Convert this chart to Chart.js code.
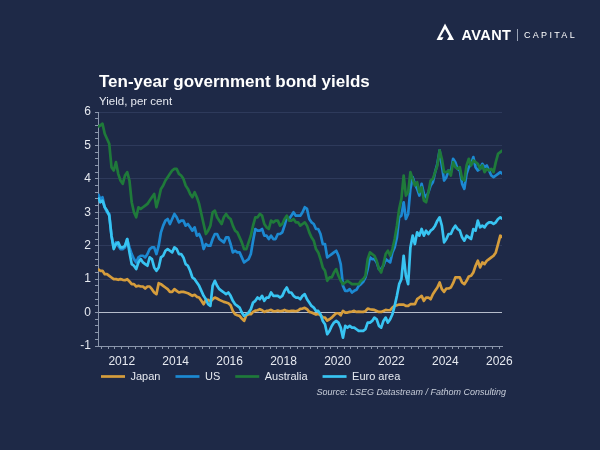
<!DOCTYPE html>
<html>
<head>
<meta charset="utf-8">
<script src="https://cdn.jsdelivr.net/npm/chart.js@4.4.1/dist/chart.umd.min.js"></script>
<style>
html,body{margin:0;padding:0;background:#1e2947;}
#wrap{position:relative;width:600px;height:450px;overflow:hidden;background:#1e2947;font-family:"Liberation Sans",Arial,sans-serif;}
#c{position:absolute;left:0;top:0;width:600px;height:450px;}
.title{position:absolute;left:99px;top:71.5px;color:#ffffff;font-weight:bold;font-size:17px;white-space:nowrap;line-height:normal;}
.sub{position:absolute;left:99px;top:94.5px;color:#e6e9f0;font-size:11.5px;white-space:nowrap;line-height:normal;}
.source{position:absolute;right:94px;top:386.8px;color:#c7cdd9;font-style:italic;font-size:9px;white-space:nowrap;line-height:normal;}
.brand{position:absolute;left:461.5px;top:26.5px;color:#ffffff;font-weight:bold;font-size:14.5px;letter-spacing:0.4px;line-height:normal;white-space:nowrap;}
.cap{position:absolute;left:524px;top:30px;color:#ffffff;font-size:9px;letter-spacing:2.3px;line-height:normal;white-space:nowrap;}
.div{position:absolute;left:517px;top:29px;width:1px;height:12px;background:#9aa3b5;}
svg.icon{position:absolute;left:436px;top:23px;}
</style>
</head>
<body>
<div id="wrap">
  <canvas id="c" width="600" height="450"></canvas>
  <svg class="icon" width="19" height="18" viewBox="0 0 19 18">
    <path d="M9 0.5 L18 17 L11 17 L13.2 13.2 L9 6 L4.2 14.2 L7.5 14.2 L6 17 L0.5 17 Z" fill="#ffffff"/>
  </svg>
  <div class="brand">AVANT</div>
  <div class="div"></div>
  <div class="cap">CAPITAL</div>
  <div class="title">Ten-year government bond yields</div>
  <div class="sub">Yield, per cent</div>
  <div class="source">Source: LSEG Datastream / Fathom Consulting</div>
</div>
<script>
// Monthly observations, Feb 2011 .. Feb 2026
const firstMonth = 2011.12;   // decimal year of first observation
const seriesNames = ['Japan', 'US', 'Australia', 'Euro area'];
const xTickYears = [2012, 2014, 2016, 2018, 2020, 2022, 2024, 2026];
const yTickValues = [-1, 0, 1, 2, 3, 4, 5, 6];

const japan = [
  1.30,1.25,1.25,1.15,1.15,1.10,1.05,1.00,1.00,0.98,1.00,
  0.98,0.97,1.00,0.93,0.85,0.85,0.78,0.80,0.78,0.78,0.72,0.78,
  0.78,0.70,0.60,0.55,0.88,0.85,0.80,0.75,0.70,0.62,0.62,0.70,
  0.65,0.60,0.62,0.62,0.60,0.58,0.54,0.50,0.53,0.47,0.45,0.35,
  0.25,0.38,0.38,0.33,0.40,0.45,0.42,0.38,0.35,0.32,0.30,0.28,
  0.22,0.05,-0.05,-0.08,-0.10,-0.18,-0.25,-0.08,-0.05,-0.05,0.02,0.06,
  0.07,0.10,0.07,0.02,0.05,0.06,0.08,0.04,0.04,0.06,0.04,0.05,
  0.08,0.05,0.04,0.05,0.05,0.04,0.06,0.11,0.12,0.14,0.10,0.02,
  0.00,-0.03,-0.06,-0.04,-0.08,-0.14,-0.15,-0.24,-0.20,-0.15,-0.08,-0.02,
  -0.02,-0.08,0.05,0.00,0.00,0.02,0.03,0.05,0.02,0.03,0.02,0.02,
  0.04,0.12,0.10,0.09,0.08,0.05,0.02,0.02,0.05,0.08,0.07,0.07,
  0.15,0.20,0.22,0.24,0.24,0.24,0.20,0.20,0.25,0.25,0.25,0.40,
  0.45,0.50,0.35,0.45,0.45,0.40,0.55,0.65,0.75,0.90,0.70,0.62,
  0.72,0.72,0.75,0.88,1.05,1.05,1.05,0.90,0.85,0.95,1.08,1.10,
  1.20,1.40,1.55,1.35,1.50,1.45,1.55,1.60,1.65,1.70,1.80,2.05,
  2.30,2.25
];
const us = [
  3.55,3.40,3.45,3.15,3.00,2.95,2.30,1.95,2.10,2.00,1.90,
  1.90,1.95,2.20,1.95,1.75,1.60,1.50,1.65,1.70,1.70,1.65,1.75,
  1.90,1.95,1.95,1.75,2.00,2.40,2.60,2.75,2.80,2.65,2.80,2.95,
  2.85,2.70,2.75,2.75,2.60,2.65,2.55,2.45,2.55,2.30,2.35,2.20,
  1.90,2.05,2.00,2.00,2.20,2.35,2.35,2.20,2.15,2.10,2.25,2.25,
  2.05,1.80,1.85,1.80,1.80,1.65,1.50,1.55,1.60,1.75,2.15,2.50,
  2.45,2.45,2.50,2.30,2.30,2.20,2.30,2.20,2.20,2.35,2.35,2.40,
  2.60,2.85,2.80,2.90,3.00,2.90,2.90,2.90,3.00,3.15,3.10,2.80,
  2.70,2.65,2.50,2.50,2.35,2.05,2.05,1.65,1.70,1.75,1.80,1.85,
  1.70,1.45,0.80,0.65,0.65,0.70,0.60,0.65,0.68,0.80,0.85,0.92,
  1.05,1.30,1.65,1.60,1.60,1.50,1.30,1.30,1.40,1.60,1.55,1.50,
  1.80,1.95,2.25,2.85,2.90,3.30,2.80,2.95,3.70,4.05,3.85,3.70,
  3.50,3.85,3.55,3.45,3.60,3.80,3.90,4.20,4.45,4.85,4.40,3.95,
  4.05,4.25,4.20,4.60,4.50,4.30,4.25,3.85,3.70,4.15,4.35,4.45,
  4.65,4.35,4.25,4.30,4.45,4.35,4.40,4.25,4.10,4.05,4.10,4.15,
  4.20,4.15
];
const australia = [
  5.55,5.60,5.65,5.35,5.20,5.05,4.35,4.25,4.50,4.15,3.95,
  3.85,4.10,4.20,3.95,3.30,3.00,2.85,3.15,3.10,3.15,3.20,3.25,
  3.35,3.45,3.55,3.15,3.40,3.70,3.80,3.95,4.05,4.15,4.25,4.30,
  4.30,4.15,4.10,4.00,3.80,3.70,3.55,3.45,3.60,3.45,3.25,2.95,
  2.65,2.35,2.45,2.60,3.00,3.05,2.85,2.75,2.65,2.85,2.95,2.85,
  2.80,2.60,2.45,2.40,2.25,2.10,1.90,1.90,2.10,2.30,2.60,2.85,
  2.85,2.95,2.90,2.65,2.55,2.50,2.75,2.70,2.75,2.75,2.60,2.65,
  2.80,2.90,2.75,2.75,2.80,2.70,2.70,2.60,2.65,2.70,2.60,2.40,
  2.25,2.15,1.90,1.80,1.60,1.35,1.25,0.95,1.05,1.05,1.20,1.30,
  1.10,0.95,0.85,0.90,0.95,0.90,0.85,0.85,0.85,0.85,0.95,1.00,
  1.10,1.60,1.80,1.75,1.70,1.55,1.30,1.20,1.45,1.75,1.85,1.70,
  1.90,2.20,2.60,3.10,3.40,4.10,3.50,3.60,4.20,4.00,3.80,3.90,
  3.60,3.75,3.35,3.30,3.60,3.95,4.00,4.20,4.40,4.85,4.60,4.20,
  4.20,4.25,4.10,4.50,4.35,4.30,4.35,4.00,3.95,4.40,4.60,4.40,
  4.55,4.50,4.45,4.30,4.40,4.20,4.30,4.25,4.30,4.20,4.50,4.75,
  4.80,4.85
];
const euroArea = [
  3.45,3.30,3.35,3.15,3.05,2.90,2.30,1.90,2.05,2.10,1.95,
  1.95,2.00,2.20,1.80,1.45,1.40,1.30,1.50,1.60,1.50,1.45,1.40,
  1.65,1.60,1.35,1.25,1.35,1.65,1.70,1.85,1.90,1.85,1.80,1.95,
  1.90,1.75,1.75,1.65,1.45,1.40,1.25,1.05,1.00,0.90,0.80,0.65,
  0.50,0.40,0.25,0.20,0.80,0.95,0.80,0.70,0.65,0.60,0.55,0.60,
  0.50,0.35,0.25,0.20,0.15,0.00,-0.10,-0.05,0.00,0.10,0.30,0.35,
  0.45,0.40,0.50,0.35,0.45,0.45,0.60,0.50,0.50,0.50,0.45,0.50,
  0.65,0.75,0.60,0.60,0.50,0.45,0.45,0.40,0.50,0.55,0.40,0.30,
  0.20,0.15,0.05,0.05,-0.05,-0.25,-0.35,-0.65,-0.55,-0.40,-0.30,-0.25,
  -0.30,-0.45,-0.75,-0.40,-0.45,-0.40,-0.45,-0.45,-0.50,-0.55,-0.55,-0.55,
  -0.50,-0.30,-0.30,-0.25,-0.15,-0.20,-0.40,-0.45,-0.25,-0.15,-0.30,-0.20,
  -0.05,0.20,0.50,0.85,1.00,1.70,1.10,0.85,1.95,2.30,2.05,2.40,
  2.30,2.50,2.30,2.45,2.35,2.45,2.50,2.60,2.75,2.85,2.60,2.10,
  2.20,2.35,2.35,2.50,2.60,2.50,2.45,2.25,2.15,2.30,2.25,2.20,
  2.50,2.45,2.75,2.55,2.60,2.55,2.65,2.70,2.70,2.65,2.70,2.80,
  2.85,2.80
];

const dates = japan.map((_, i) => firstMonth + i / 12);
const toPoints = arr => arr.map((v, i) => ({x: dates[i], y: v}));

const colors = ['#d69d3c', '#1c89d2', '#1f7a3a', '#38c4f2'];
const drawOrder = [3, 4, 2, 1]; // lower = drawn on top
const values = [japan, us, australia, euroArea];

const axisCol = '#8b96ac';
const gridCol = '#2e3a5b';
const zeroCol = '#b5bccb';
const textCol = '#e6e9f0';
const fontFam = '"Liberation Sans", Arial, sans-serif';
const near = (v, t) => Math.abs(v - t) < 1e-6;

// nudges the legend row so it starts just right of the y axis, tucked under the year labels
const legendNudge = {
  id: 'legendNudge',
  afterLayout(chart) {
    const l = chart.legend;
    if (!l) return;
    l.left += 11; l.right += 11;
    l.top -= 10; l.bottom -= 10;
  }
};

new Chart(document.getElementById('c'), {
  type: 'line',
  data: {
    datasets: values.map((arr, k) => ({
      label: seriesNames[k],
      data: toPoints(arr),
      borderColor: colors[k],
      backgroundColor: colors[k],
      borderWidth: 2.7,
      pointRadius: 0,
      pointHoverRadius: 0,
      fill: false,
      tension: 0,
      borderJoinStyle: 'round',
      order: drawOrder[k]
    }))
  },
  plugins: [legendNudge],
  options: {
    responsive: false,
    animation: false,
    devicePixelRatio: 1,
    layout: {padding: {left: 75, right: 98, top: 112, bottom: 48}},
    plugins: {
      tooltip: {enabled: false},
      title: {display: false},
      legend: {
        display: true,
        position: 'bottom',
        align: 'start',
        labels: {
          usePointStyle: true,
          pointStyle: 'line',
          pointStyleWidth: 24,
          padding: 15,
          color: textCol,
          font: {family: fontFam, size: 11},
          sort: (a, b) => a.datasetIndex - b.datasetIndex
        }
      }
    },
    scales: {
      x: {
        type: 'linear',
        min: firstMonth,
        max: 2026.1,
        afterFit: s => { s.height = 20; },
        border: {display: true, color: axisCol, width: 1},
        grid: {drawOnChartArea: false, drawTicks: true, tickLength: 3, tickColor: axisCol, color: axisCol},
        ticks: {
          stepSize: 0.25,
          includeBounds: false,
          autoSkip: false,
          maxRotation: 0,
          padding: 5,
          color: textCol,
          font: {family: fontFam, size: 12},
          callback: v => {
            const r = Math.round(v);
            return (near(v, r) && xTickYears.includes(r)) ? String(r) : '';
          }
        }
      },
      y: {
        type: 'linear',
        min: -1,
        max: 6,
        afterFit: s => { s.width = 23; },
        border: {display: true, color: axisCol, width: 1},
        grid: {
          drawOnChartArea: true,
          drawTicks: true,
          tickLength: 3,
          tickColor: axisCol,
          lineWidth: 1,
          color: ctx => {
            const v = ctx.tick ? ctx.tick.value : NaN;
            if (near(v, 0)) return zeroCol;
            if (near(v, -1)) return 'rgba(0,0,0,0)';
            const r = Math.round(v);
            return (near(v, r) && yTickValues.includes(r)) ? gridCol : 'rgba(0,0,0,0)';
          }
        },
        ticks: {
          stepSize: 0.2,
          autoSkip: false,
          padding: 4,
          color: textCol,
          font: {family: fontFam, size: 12},
          callback: v => {
            const r = Math.round(v);
            return (near(v, r) && yTickValues.includes(r)) ? String(r) : '';
          }
        }
      }
    }
  }
});
</script>
</body>
</html>
